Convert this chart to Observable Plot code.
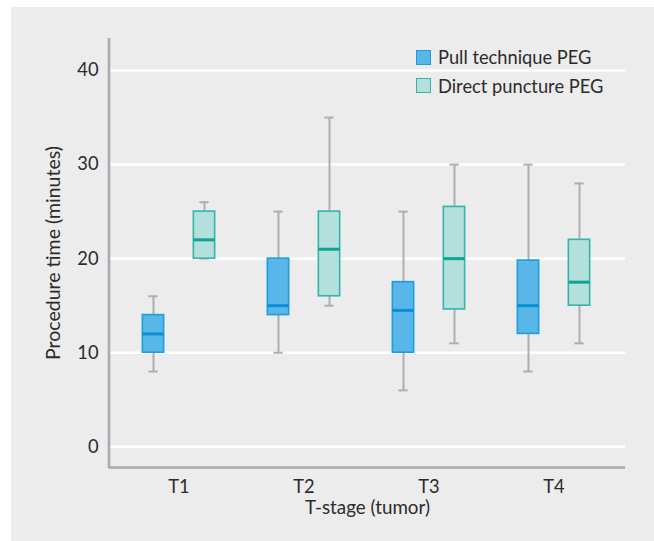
<!DOCTYPE html>
<html>
<head>
<meta charset="utf-8">
<script src="https://cdn.jsdelivr.net/npm/d3@7"></script>
<script src="https://cdn.jsdelivr.net/npm/@observablehq/plot@0.6"></script>
<style>
  html, body { margin: 0; padding: 0; background: #ffffff; width: 654px; height: 541px; overflow: hidden; }
  #panel { position: absolute; left: 11px; top: 7px; width: 643px; height: 534px; background: #ebeceb; font-family: Lato, "Open Sans", sans-serif; color: #2b2b2b; }
  #legend { position: absolute; left: 404.5px; top: 36px; font-size: 18.3px; }
  .item { display: flex; align-items: center; height: 28.4px; }
  .sw { width: 13px; height: 13px; margin-right: 7.5px; box-sizing: content-box; }
</style>
</head>
<body>
<div id="panel">
  <div id="chart"></div>
  <div id="legend"></div>
</div>
<script>
// ---- data ----
const stages = ["T1", "T2", "T3", "T4"];
const methods = ["Pull technique PEG", "Direct puncture PEG"];
const pullMin    = [8, 10, 6, 8];
const pullQ1     = [10, 14, 10, 12];
const pullMedian = [12, 15, 14.5, 15];
const pullQ3     = [14, 20, 17.5, 19.8];
const pullMax    = [16, 25, 25, 30];
const directMin    = [20, 15, 11, 11];
const directQ1     = [20, 16, 14.6, 15];
const directMedian = [22, 21, 20, 17.5];
const directQ3     = [25, 25, 25.5, 22];
const directMax    = [26, 35, 30, 28];
const yTicks = [0, 10, 20, 30, 40];

// ---- styling / layout ----
const colors = {
  pull:   { fill: "#58b6e8", stroke: "#1e9edc", median: "#0b8fd2" },
  direct: { fill: "#b3dfdc", stroke: "#33b5a9", median: "#0ba596" }
};
const whiskerColor = "#aeaeae";
const axisColor = "#a9abad";
const textColor = "#2b2b2b";
const W = 643, H = 534, mL = 98, mR = 29, mT = 31, mB = 74;
const yDomain = [-2.2, 43.4];
const po = 0.0525, align = 0.41;
const step = (W - mL - mR) / (stages.length + 2 * po);
const offset = 25.5, boxW = 22, capW = 10;
const boxInset = (step - boxW) / 2, capInset = (step - capW) / 2;

const pullData = stages.map((s, i) => ({stage: s, method: methods[0], min: pullMin[i], q1: pullQ1[i], median: pullMedian[i], q3: pullQ3[i], max: pullMax[i]}));
const directData = stages.map((s, i) => ({stage: s, method: methods[1], min: directMin[i], q1: directQ1[i], median: directMedian[i], q3: directQ3[i], max: directMax[i]}));

function boxMarks(data, dx, c) {
  return [
    Plot.ruleX(data, {x: "stage", y1: "min", y2: "max", dx, stroke: whiskerColor, strokeWidth: 2}),
    Plot.tickY(data, {x: "stage", y: "min", dx, insetLeft: capInset, insetRight: capInset, stroke: whiskerColor, strokeWidth: 2}),
    Plot.tickY(data, {x: "stage", y: "max", dx, insetLeft: capInset, insetRight: capInset, stroke: whiskerColor, strokeWidth: 2}),
    Plot.barY(data, {x: "stage", y1: "q1", y2: "q3", dx, insetLeft: boxInset, insetRight: boxInset, fill: c.fill, stroke: c.stroke, strokeWidth: 1.6}),
    Plot.tickY(data, {x: "stage", y: "median", dx, insetLeft: boxInset, insetRight: boxInset, stroke: c.median, strokeWidth: 3})
  ];
}

const chart = Plot.plot({
  width: W, height: H,
  marginLeft: mL, marginRight: mR, marginTop: mT, marginBottom: mB,
  style: { background: "transparent", fontFamily: "Lato, 'Open Sans', sans-serif", fontSize: "18px", color: textColor, overflow: "visible" },
  x: { type: "band", domain: stages, paddingInner: 0, paddingOuter: po, align },
  y: { domain: yDomain },
  marks: [
    Plot.gridY(yTicks, {stroke: "#ffffff", strokeOpacity: 1, strokeWidth: 2.6}),
    ...boxMarks(pullData, -offset, colors.pull),
    ...boxMarks(directData, offset, colors.direct),
    Plot.ruleY([yDomain[0]], {stroke: axisColor, strokeWidth: 2.6}),
    Plot.axisY(yTicks, {tickSize: 0, tickPadding: 11, label: null, fontSize: 18.3}),
    Plot.axisX({tickSize: 0, tickPadding: 12, label: null, fontSize: 18.3}),
    Plot.text(["Procedure time (minutes)"], {frameAnchor: "left", textAnchor: "middle", dx: -56, rotate: -90, fontSize: 19.5, fill: textColor}),
    Plot.text(["T-stage (tumor)"], {frameAnchor: "bottom", textAnchor: "middle", dy: 40, lineAnchor: "middle", fontSize: 18.8, fill: textColor})
  ]
});

// left axis line along the frame edge
d3.select(chart).append("line")
  .attr("x1", mL).attr("x2", mL)
  .attr("y1", mT).attr("y2", H - mB + 1.3)
  .attr("stroke", axisColor).attr("stroke-width", 2.6);

document.getElementById("chart").appendChild(chart);

// legend
const legend = d3.select("#legend");
[["pull", methods[0]], ["direct", methods[1]]].forEach(([k, label]) => {
  const item = legend.append("div").attr("class", "item");
  item.append("div").attr("class", "sw")
    .style("background", colors[k].fill)
    .style("border", `1.5px solid ${colors[k].stroke}`);
  item.append("span").text(label);
});
</script>
</body>
</html>
